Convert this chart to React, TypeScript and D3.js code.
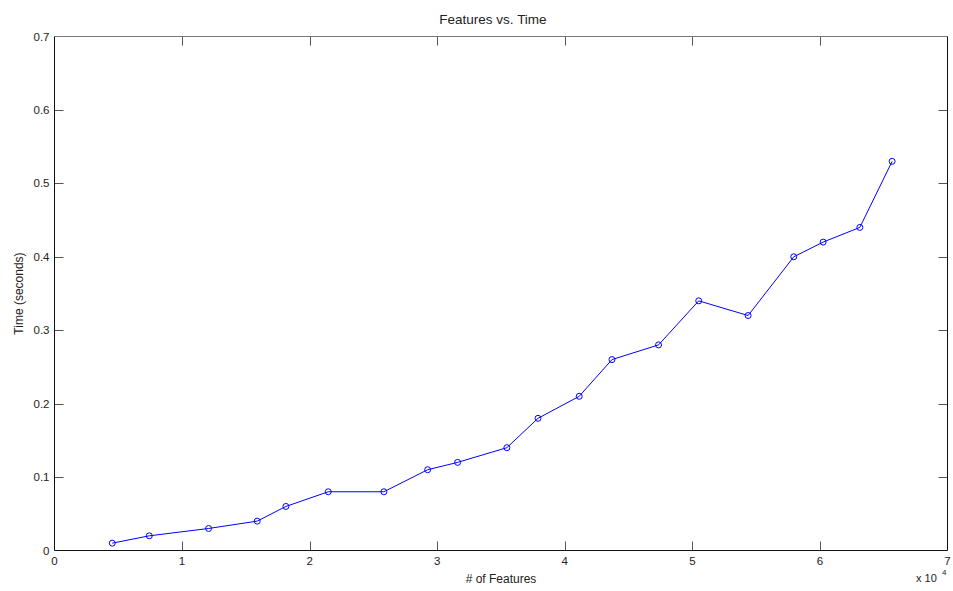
import React from "react";
import * as d3 from "d3";

// Number of features (raw counts) and the matching run time in seconds
const features = [
  4530, 7430, 12080, 15890, 18140, 21460, 25820, 29250, 31600, 35460,
  37900, 41130, 43700, 47350, 50500, 54370, 57950, 60250, 63130, 65660,
];
const seconds = [
  0.01, 0.02, 0.03, 0.04, 0.06, 0.08, 0.08, 0.11, 0.12, 0.14,
  0.18, 0.21, 0.26, 0.28, 0.34, 0.32, 0.4, 0.42, 0.44, 0.53,
];
const xTicks = [0, 10000, 20000, 30000, 40000, 50000, 60000, 70000];
const yTicks = [0, 0.1, 0.2, 0.3, 0.4, 0.5, 0.6, 0.7];

const W = 953;
const H = 591;
const M = { left: 54.5, right: 947.5, top: 36.5, bottom: 550.5 };
const FONT = "'Liberation Sans', Arial, Helvetica, sans-serif";
const TEXT = "#222";
const TICK = 9;

export default function App() {
  const x = d3.scaleLinear().domain([0, 70000]).range([M.left, M.right]);
  const y = d3.scaleLinear().domain([0, 0.7]).range([M.bottom, M.top]);
  const pts = features.map((f, i) => [f, seconds[i]] as [number, number]);
  const line = d3
    .line<[number, number]>()
    .x((d) => x(d[0]))
    .y((d) => y(d[1]));

  return (
    <svg
      width={W}
      height={H}
      style={{ position: "absolute", left: 0, top: 0, background: "#fff" }}
      fontFamily={FONT}
    >
      {/* inward ticks on all four sides */}
      {xTicks.slice(1, -1).map((t) => (
        <g key={"xt" + t} stroke="#555" strokeWidth={1}>
          <line x1={Math.round(x(t)) + 0.5} x2={Math.round(x(t)) + 0.5} y1={M.bottom} y2={M.bottom - TICK} />
          <line x1={Math.round(x(t)) + 0.5} x2={Math.round(x(t)) + 0.5} y1={M.top} y2={M.top + TICK} />
        </g>
      ))}
      {yTicks.slice(1, -1).map((t) => (
        <g key={"yt" + t} stroke="#555" strokeWidth={1}>
          <line x1={M.left} x2={M.left + TICK} y1={Math.round(y(t)) + 0.5} y2={Math.round(y(t)) + 0.5} />
          <line x1={M.right} x2={M.right - TICK} y1={Math.round(y(t)) + 0.5} y2={Math.round(y(t)) + 0.5} />
        </g>
      ))}

      {/* axes box */}
      <line x1={M.left} x2={M.right} y1={M.top} y2={M.top} stroke="#777" />
      <line x1={M.left} x2={M.right} y1={M.bottom} y2={M.bottom} stroke="#111" />
      <line x1={M.left} x2={M.left} y1={M.top} y2={M.bottom} stroke="#111" />
      <line x1={M.right} x2={M.right} y1={M.top} y2={M.bottom} stroke="#111" />

      {/* tick labels */}
      {xTicks.map((t) => (
        <text key={"xl" + t} x={x(t)} y={M.bottom + 14} fontSize={11.5} fill={TEXT} textAnchor="middle">
          {t / 10000}
        </text>
      ))}
      {yTicks.map((t) => (
        <text key={"yl" + t} x={M.left - 5} y={y(t) + 4} fontSize={11.5} fill={TEXT} textAnchor="end">
          {t === 0 ? "0" : t.toFixed(1)}
        </text>
      ))}

      {/* exponent note for the x axis */}
      <text x={916} y={582} fontSize={11} fill={TEXT}>
        x 10
      </text>
      <text x={942} y={575} fontSize={8} fill={TEXT}>
        4
      </text>

      {/* titles */}
      <text x={(M.left + M.right) / 2 - 8} y={24} fontSize={13.5} fill={TEXT} textAnchor="middle">
        Features vs. Time
      </text>
      <text x={(M.left + M.right) / 2} y={583} fontSize={12} fill={TEXT} textAnchor="middle">
        # of Features
      </text>
      <text
        transform={`translate(23, ${(M.top + M.bottom) / 2}) rotate(-90)`}
        fontSize={12}
        fill={TEXT}
        textAnchor="middle"
      >
        Time (seconds)
      </text>

      {/* data series */}
      <path d={line(pts) ?? ""} fill="none" stroke="#0000ff" strokeWidth={1} />
      {pts.map((d, i) => (
        <circle key={i} cx={x(d[0])} cy={y(d[1])} r={3} fill="none" stroke="#0000ff" strokeWidth={1} />
      ))}
    </svg>
  );
}
